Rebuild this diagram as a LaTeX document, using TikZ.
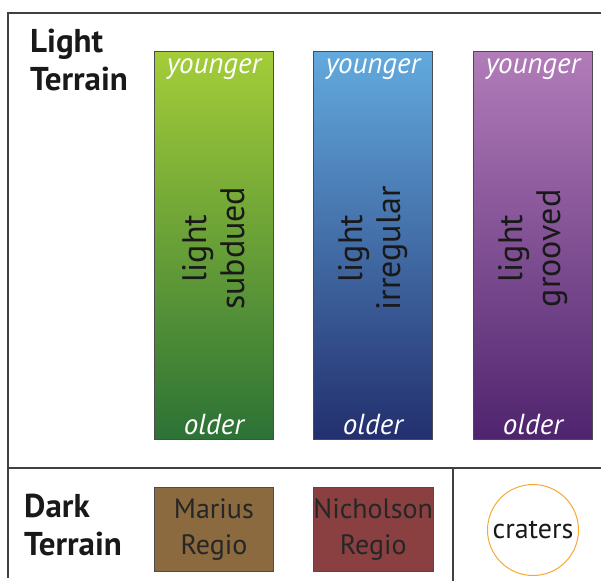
\documentclass[tikz,border=0pt]{standalone}
\usepackage{fontspec}
\setmainfont{PT Sans}
\begin{document}
\begin{tikzpicture}[x=1pt,y=-1pt,
  frame/.style={draw=black!75, line width=1.2pt},
  bar/.style={draw=black!70, line width=0.8pt, minimum width=119pt, minimum height=388pt, inner sep=0pt, anchor=north west},
  patch/.style={draw=black!70, line width=0.8pt, minimum width=119pt, minimum height=84pt, inner sep=0pt, anchor=north west, align=center, font=\fontsize{28}{36}\selectfont\color{black!85}},
  age/.style={font=\fontsize{29}{32}\itshape\selectfont, text=white},
  unit/.style={rotate=90, align=center, font=\fontsize{34}{38}\selectfont, text=black!90},
  heading/.style={align=left, anchor=north west, font=\fontsize{33}{38}\bfseries\selectfont, text=black!90, inner sep=0pt}]
\useasboundingbox (0,0) rectangle (601,581);
% frame and dividers
\coordinate (tl) at (8,13);
\coordinate (tr) at (601,13);
\coordinate (bl) at (8,578);
\coordinate (ml) at (8,468);
\coordinate (mr) at (601,468);
\coordinate (vt) at (453,468);
\coordinate (vb) at (453,581);
\draw[frame] (tr) -- (tl) -- (bl);
\draw[frame] (ml) -- (mr);
\draw[frame] (vt) -- (vb);
% headings
\node[heading] (lt) at (30,29) {Light\\Terrain};
\node[heading] (dt) at (24,494) {Dark\\Terrain};
% light terrain columns
\node[bar, top color={rgb,255:red,164;green,205;blue,56}, bottom color={rgb,255:red,44;green,114;blue,54}] (g) at (154,51) {};
\node[bar, top color={rgb,255:red,98;green,170;blue,222}, bottom color={rgb,255:red,35;green,47;blue,110}] (b) at (313,51) {};
\node[bar, top color={rgb,255:red,178;green,124;blue,185}, bottom color={rgb,255:red,79;green,36;blue,110}] (p) at (473,51) {};
\foreach \n in {g,b,p}{
  \node[age] (\n y) at ([yshift=-18]\n.north) {younger};
  \node[age] (\n o) at ([yshift=15]\n.south) {older};
}
\node[unit] (gl) at ([yshift=-3]g.center) {light\\subdued};
\node[unit] (bl2) at ([yshift=-3]b.center) {light\\irregular};
\node[unit] (pl) at ([yshift=-3]p.center) {light\\grooved};
% dark terrain
\node[patch, fill={rgb,255:red,138;green,106;blue,62}] (mar) at (154,487) {Marius\\Regio};
\node[patch, fill={rgb,255:red,138;green,64;blue,64}] (nic) at (313,487) {Nicholson\\Regio};
\node[circle, draw={rgb,255:red,246;green,168;blue,50}, line width=1pt, minimum size=91pt, inner sep=0pt, font=\fontsize{28}{32}\selectfont, text=black!90] (cr) at (533,530) {craters};
\end{tikzpicture}
\end{document}
